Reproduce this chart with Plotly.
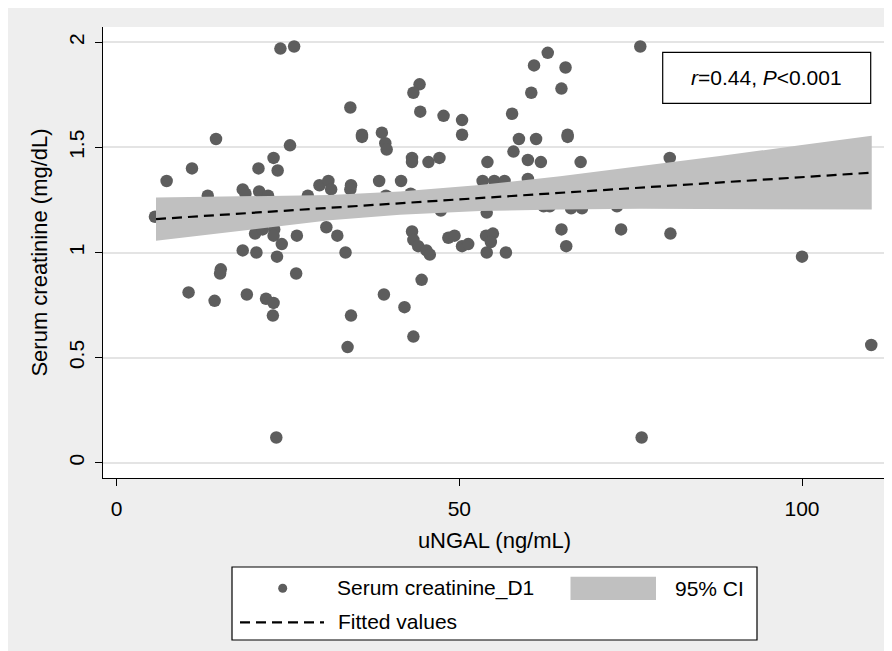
import plotly.graph_objects as go

# ---------------- data ----------------
ungal = [
    23.9, 25.9, 14.5, 25.3, 11.0, 22.9, 20.7, 23.5, 7.3, 18.4, 18.8, 20.8, 22.1, 13.3, 5.6,
    20.2, 21.3, 23.0, 22.9, 24.1, 26.3, 18.4, 20.4, 23.4, 15.2, 15.1, 26.2, 10.5, 14.3, 19.0,
    21.8, 22.9, 22.8, 23.3,
    27.9, 29.6, 30.9, 31.3, 34.2, 34.1, 38.3, 39.3, 41.5, 34.1, 44.2, 43.3, 44.3, 47.7, 50.4,
    50.4, 35.8, 35.8, 38.7, 39.2, 39.4, 43.1, 43.1, 45.5, 47.1, 54.1, 53.4, 55.1, 56.6, 42.9,
    47.3, 54.0, 30.6, 32.2, 33.4, 43.1, 43.3, 44.0, 45.2, 45.7, 48.4, 49.3, 50.4, 51.3, 53.9,
    54.0, 44.5, 39.0, 42.0, 34.2, 43.3, 33.7,
    76.4, 62.9, 60.9, 65.5, 60.5, 64.9, 57.7, 58.7, 61.2, 65.8, 65.8, 57.9, 60.0, 61.9, 67.7,
    80.7, 60.0, 62.3, 63.2, 66.3, 67.9, 73.0, 54.9, 54.6, 64.9, 65.6, 56.8, 73.6, 80.8, 100.0,
    110.1, 76.6,
]
creatinine = [
    1.97, 1.98, 1.54, 1.51, 1.40, 1.45, 1.40, 1.39, 1.34, 1.30, 1.28, 1.29, 1.27, 1.27, 1.17,
    1.09, 1.11, 1.11, 1.08, 1.04, 1.08, 1.01, 1.00, 0.98, 0.92, 0.90, 0.90, 0.81, 0.77, 0.80,
    0.78, 0.76, 0.70, 0.12,
    1.27, 1.32, 1.34, 1.30, 1.32, 1.30, 1.34, 1.27, 1.34, 1.69, 1.80, 1.76, 1.67, 1.65, 1.63,
    1.56, 1.56, 1.55, 1.57, 1.52, 1.49, 1.45, 1.43, 1.43, 1.45, 1.43, 1.34, 1.34, 1.34, 1.28,
    1.20, 1.19, 1.12, 1.08, 1.00, 1.10, 1.06, 1.03, 1.01, 0.99, 1.07, 1.08, 1.03, 1.04, 1.08,
    1.00, 0.87, 0.80, 0.74, 0.70, 0.60, 0.55,
    1.98, 1.95, 1.89, 1.88, 1.76, 1.78, 1.66, 1.54, 1.54, 1.56, 1.55, 1.48, 1.44, 1.43, 1.43,
    1.45, 1.35, 1.22, 1.22, 1.21, 1.21, 1.22, 1.09, 1.05, 1.11, 1.03, 1.00, 1.11, 1.09, 0.98,
    0.56, 0.12,
]

fit_x = [5.75, 110.17]
fit_y = [1.159, 1.380]

ci_x = [5.75, 19.46, 31.1, 41.35, 53.0, 64.7, 76.4, 88.0, 99.7, 110.17]
ci_upper = [1.262, 1.268, 1.273, 1.290, 1.321, 1.363, 1.410, 1.459, 1.510, 1.556]
ci_lower = [1.056, 1.108, 1.153, 1.180, 1.197, 1.205, 1.208, 1.207, 1.206, 1.204]

x_ticks = [0, 50, 100]
y_ticks = [0, 0.5, 1, 1.5, 2]
y_tick_labels = ["0", "0.5", "1", "1.5", "2"]

series_names = ["Serum creatinine_D1", "95% CI", "Fitted values"]
stat_text = "<i>r</i>=0.44, <i>P</i>&lt;0.001"

# ---------------- styling ----------------
FONT = "Liberation Sans, Arial, Helvetica, sans-serif"
BG = "#eeeeee"
DOT = "#5d5d5d"
BAND = "#c0c0c0"
DASH = "10px,6px"

OFF = 8                      # page body margin of the html page
SW, SH = 892, 651            # screenshot size
W, H = SW - OFF, SH - OFF    # figure size
PL, PR, PT, PB = 103, 886, 27, 478  # plot area in screenshot pixels


def px(xp):
    return (xp - PL) / (PR - PL)


def py(yp):
    return (PB - yp) / (PB - PT)


fig = go.Figure()

fig.add_trace(go.Scatter(
    x=ungal, y=creatinine, mode="markers", name=series_names[0],
    marker=dict(color=DOT, size=12.5, line=dict(width=0)),
    showlegend=False, hoverinfo="x+y",
))

fig.add_trace(go.Scatter(
    x=ci_x + ci_x[::-1], y=ci_upper + ci_lower[::-1],
    mode="lines", fill="toself", fillcolor=BAND,
    line=dict(width=0, color=BAND), name=series_names[1],
    showlegend=False, hoverinfo="skip",
))

fig.add_trace(go.Scatter(
    x=fit_x, y=fit_y, mode="lines", name=series_names[2],
    line=dict(color="black", width=2.2, dash=DASH),
    showlegend=False,
))

shapes = [
    # statistic box
    dict(type="rect", xref="paper", yref="paper", x0=px(662.7), x1=px(870.7),
         y0=py(103.3), y1=py(52.3), fillcolor="white",
         line=dict(color="black", width=1.2), layer="above"),
    # legend box
    dict(type="rect", xref="paper", yref="paper", x0=px(232), x1=px(757),
         y0=py(640), y1=py(567), fillcolor="white",
         line=dict(color="black", width=1.2)),
    # legend symbols
    dict(type="circle", xref="paper", yref="paper", x0=px(282.7 - 4.5), x1=px(282.7 + 4.5),
         y0=py(588.3 + 4.5), y1=py(588.3 - 4.5), fillcolor=DOT, line=dict(width=0)),
    dict(type="rect", xref="paper", yref="paper", x0=px(570.5), x1=px(656),
         y0=py(600), y1=py(576.7), fillcolor=BAND, line=dict(width=0)),
    dict(type="line", xref="paper", yref="paper", x0=px(240), x1=px(324),
         y0=py(622.3), y1=py(622.3), line=dict(color="black", width=2.2, dash=DASH)),
]

annotations = [
    dict(text=stat_text, xref="paper", yref="paper", x=px(766.7), y=py(77.8),
         xanchor="center", yanchor="middle", showarrow=False,
         font=dict(size=21, family=FONT, color="black")),
    dict(text=series_names[0], xref="paper", yref="paper", x=px(335), y=py(588.3),
         xanchor="left", yanchor="middle", showarrow=False,
         font=dict(size=21, family=FONT, color="black")),
    dict(text=series_names[1], xref="paper", yref="paper", x=px(673), y=py(588.3),
         xanchor="left", yanchor="middle", showarrow=False,
         font=dict(size=21, family=FONT, color="black")),
    dict(text=series_names[2], xref="paper", yref="paper", x=px(336), y=py(621.5),
         xanchor="left", yanchor="middle", showarrow=False,
         font=dict(size=21, family=FONT, color="black")),
]

fig.update_layout(
    width=W, height=H,
    margin=dict(l=PL - OFF, r=SW - PR, t=PT - OFF, b=SH - PB, pad=0),
    paper_bgcolor=BG, plot_bgcolor="white",
    showlegend=False,
    font=dict(family=FONT, size=21, color="black"),
    shapes=shapes, annotations=annotations,
)

fig.update_xaxes(
    range=[-1.984, 112.25], tickmode="array", tickvals=x_ticks,
    showgrid=False, zeroline=False, showline=True, linecolor="black", linewidth=1.3,
    ticks="outside", ticklen=7, tickwidth=1.3, tickcolor="black",
    tickfont=dict(size=21, family=FONT), ticklabelstandoff=5,
    title=dict(text="uNGAL (ng/mL)", font=dict(size=22, family=FONT), standoff=13),
)
fig.update_yaxes(
    range=[-0.0728, 2.0728], tickmode="array", tickvals=y_ticks, ticktext=y_tick_labels,
    tickangle=-90,
    showgrid=True, gridcolor="#e4e4e4", gridwidth=1.5,
    zeroline=False, showline=True, linecolor="black", linewidth=1.3,
    ticks="outside", ticklen=7, tickwidth=1.3, tickcolor="black",
    tickfont=dict(size=21, family=FONT), ticklabelstandoff=2,
    title=dict(text="Serum creatinine (mg/dL)", font=dict(size=22, family=FONT), standoff=11),
)

fig.write_html("out.html")
